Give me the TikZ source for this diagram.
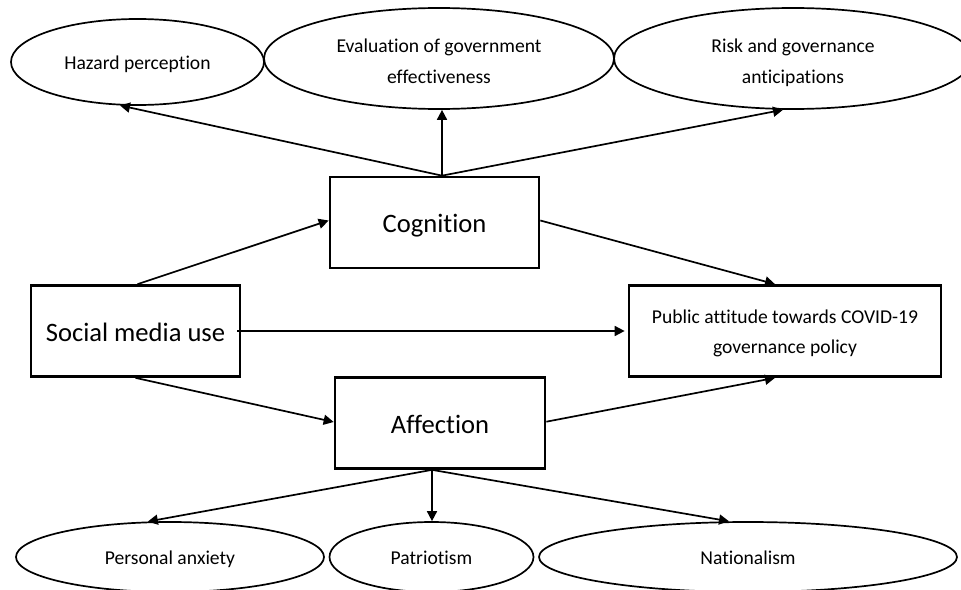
\documentclass[tikz,border=0pt]{standalone}
\usepackage{fontspec}
\setmainfont[Ligatures=NoCommon]{Carlito}
\usetikzlibrary{shapes.geometric,arrows.meta}
\newcommand{\twostrut}{\rule[-6pt]{0pt}{31pt}}
\newcommand{\onestrut}{\rule[-7pt]{0pt}{28.4pt}}
\newcommand{\bigstrut}{\rule[-8pt]{0pt}{36pt}}
\newcommand{\midstrut}{\rule[-8pt]{0pt}{30pt}}
\tikzset{
 ell/.style={draw=black,line width=1.7pt,ellipse,inner sep=0pt,align=center,font=\fontsize{19.6}{31}\selectfont},
 boxn/.style={draw=black,line width=2.7pt,rectangle,inner sep=0pt,align=center,minimum height=91pt},
 bigt/.style={font=\fontsize{26.6}{32}\selectfont},
 smallt/.style={font=\fontsize{19.6}{30}\selectfont},
 arr/.style={-{Triangle[length=10pt,width=10pt]},line width=1.7pt}
}
\begin{document}
\begin{tikzpicture}[x=1pt,y=-1pt]
\useasboundingbox (0,0) rectangle (961,589);
\fill[white] (0,0) rectangle (961,589);
\node[ell,minimum width=253pt,minimum height=86pt] (hp) at (137.5,62) {\onestrut Hazard perception};
\node[ell,minimum width=350pt,minimum height=101pt] (eg) at (439,58.5) {\twostrut Evaluation of government\\\twostrut effectiveness};
\node[ell,minimum width=358pt,minimum height=101pt] (rg) at (793,58.5) {\twostrut Risk and governance\\\twostrut anticipations};
\node[boxn,bigt,minimum width=209pt] (cog) at (434.5,222.5) {\bigstrut Cognition};
\node[boxn,bigt,minimum width=209pt] (smu) at (135.5,331) {\bigstrut Social media use};
\node[boxn,smallt,minimum width=312pt] (pa) at (785,331) {\midstrut Public attitude towards COVID-19\\\midstrut governance policy};
\node[boxn,bigt,minimum width=210pt] (aff) at (440,423) {\bigstrut Affection};
\node[ell,minimum width=308pt,minimum height=70pt] (pe) at (170,557) {\onestrut Personal anxiety};
\node[ell,minimum width=204pt,minimum height=70pt] (pt) at (431.5,557) {\onestrut Patriotism};
\node[ell,minimum width=418pt,minimum height=70pt] (na) at (748,557) {\onestrut Nationalism};
\draw[arr] ([xshift=7.5pt]cog.north) -- (hp.248);
\draw[arr] ([xshift=7.5pt]cog.north) -- ([xshift=3pt]eg.south);
\draw[arr] ([xshift=7.5pt]cog.north) -- (rg.259);
\draw[arr] ([xshift=2pt]smu.north) -- ([yshift=2pt]cog.west);
\draw[arr] (smu.south) -- ([yshift=1pt]aff.west);
\draw[arr,shorten >=3pt,shorten <=-4pt] (smu.east) -- (pa.west);
\draw[arr] ([yshift=2pt]cog.east) -- ([xshift=-10pt]pa.north);
\draw[arr] ([yshift=1.3pt]aff.east) -- ([xshift=-10pt]pa.south);
\draw[arr] ([xshift=-8pt]aff.south) -- (pe.122);
\draw[arr] ([xshift=-8pt]aff.south) -- ([xshift=0.5pt]pt.north);
\draw[arr] ([xshift=-8pt]aff.south) -- (na.118);
\end{tikzpicture}
\end{document}
